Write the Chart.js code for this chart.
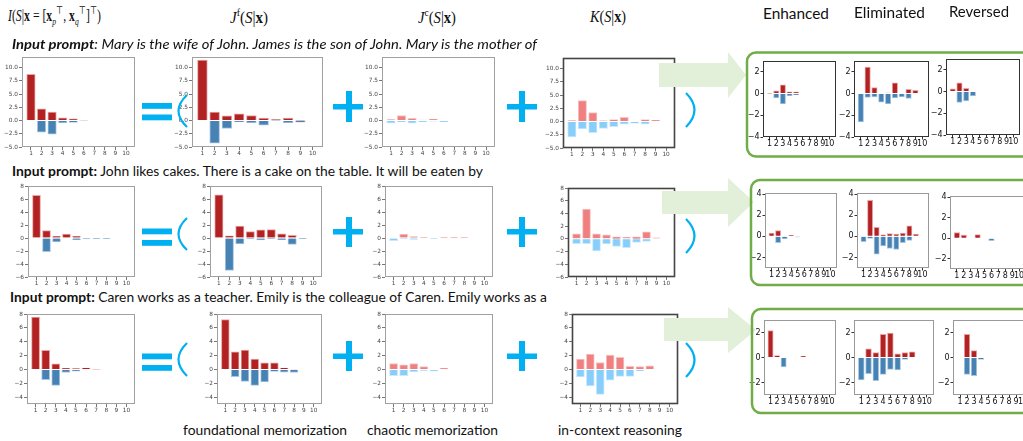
<!DOCTYPE html>
<html lang="en">
<head>
<meta charset="UTF-8">
<title>Decomposition of interactions</title>
<script src="https://cdnjs.cloudflare.com/ajax/libs/Chart.js/4.4.1/chart.umd.min.js"></script>
<style>
  body { margin: 0; width: 1023px; height: 441px; position: relative; overflow: hidden; background: #fff; font-family: Lato, "Open Sans", sans-serif; color: #111; }
  .txt { position: absolute; white-space: nowrap; transform-origin: 0 50%; line-height: 1.1; }
  .math { font-family: "Liberation Serif", "DejaVu Serif", serif; font-size: 17px; }
  .math sub, .math sup { font-size: 65%; }
  .panel { position: absolute; }
  #deco { position: absolute; left: 0; top: 0; z-index: 5; }
</style>
</head>
<body>
<svg id="deco" width="1023" height="441"></svg>
<script>
// orders 1..10 on the x axis
const orders = [1, 2, 3, 4, 5, 6, 7, 8, 9, 10];

// y tick labels
const mainTicksR1 = [-5, -2.5, 0, 2.5, 5, 7.5, 10];
const mainTicksR2 = [-6, -4, -2, 0, 2, 4, 6, 8];
const mainTicksR3 = [-4, -2, 0, 2, 4, 6, 8];
const sideTicksR1 = [-4, -2, 0, 2];
const sideTicksR2 = [-2, 0, 2, 4];
const sideTicksR3 = [-2, 0, 2];

// row 1: Mary is the wife of John ...
const r1TotalPos = [8.75, 2.2, 1.6, 0.5, 0.3, 0, 0, 0, 0, 0];
const r1TotalNeg = [0, -2.2, -2.6, -0.45, -0.35, -0.08, 0, 0, 0, 0];
const r1FoundPos = [11.4, 1.6, 0.9, 1.25, 0.95, 0.45, 0.2, 0.45, 0.05, 0];
const r1FoundNeg = [0, -4.3, -1.5, -0.2, -0.4, -0.9, -0.05, -0.45, -0.3, 0];
const r1ChaosPos = [0.2, 0.95, 0.4, 0.1, 0.25, 0, 0, 0, 0, 0];
const r1ChaosNeg = [-0.5, -0.25, -0.5, -0.2, -0.1, -0.2, 0, 0, 0, 0];
const r1IclPos = [0.2, 3.95, 1.7, 0.15, 0.35, 0.8, 0, 0.35, 0.25, 0];
const r1IclNeg = [-2.9, -1.4, -2.1, -1.3, -0.95, -0.5, -0.3, -0.5, 0, 0];
const r1EnhPos = [0.04, 0.25, 0.8, 0.15, 0.15, 0, 0, 0, 0, 0];
const r1EnhNeg = [0, -0.4, -0.95, -0.2, -0.1, 0, 0, 0, 0, 0];
const r1ElimPos = [0, 2.45, 0.55, 0, 0.05, 1.0, 0, 0.4, 0.3, 0];
const r1ElimNeg = [-2.6, -0.35, -0.3, -0.8, -0.95, -0.4, -0.3, -0.45, 0, 0];
const r1RevPos = [0.25, 0.8, 0.3, 0, 0, 0, 0, 0, 0, 0];
const r1RevNeg = [0, -1.0, -0.85, -0.4, 0, 0, 0, 0, 0, 0];

// row 2: John likes cakes ...
const r2TotalPos = [6.55, 1.15, 0.25, 0.6, 0.25, 0, 0, 0, 0, 0];
const r2TotalNeg = [0, -2.1, -0.6, 0, -0.25, -0.15, -0.05, -0.1, 0, 0];
const r2FoundPos = [6.65, 0.35, 1.85, 1.0, 1.25, 1.3, 0.65, 0.4, 0, 0];
const r2FoundNeg = [0, -5.0, -0.9, -0.15, -0.3, -0.1, -0.25, -1.0, -0.1, 0];
const r2ChaosPos = [0, 0.6, 0.2, 0.1, 0, 0.05, 0.03, 0.05, 0, 0];
const r2ChaosNeg = [-0.4, -0.15, -0.2, 0, -0.05, 0, 0, 0, 0, 0];
const r2IclPos = [0.8, 4.7, 0.8, 0.65, 0.3, 0.25, 0.3, 1.1, 0.15, 0];
const r2IclNeg = [-0.75, -0.75, -1.9, -0.8, -1.2, -1.4, -0.55, -0.4, 0, 0];
const r2EnhPos = [0.3, 0.55, 0, 0.1, 0, 0, 0, 0, 0, 0];
const r2EnhNeg = [0, -0.6, -0.25, 0, -0.05, 0, 0, 0, 0, 0];
const r2ElimPos = [0, 3.4, 0.85, 0.15, 0.25, 0.2, 0.3, 1.0, 0.2, 0];
const r2ElimNeg = [-0.5, -0.2, -1.7, -0.9, -1.15, -1.25, -0.6, -0.4, 0, 0];
const r2RevPos = [0.55, 0.3, 0, 0.35, 0, 0, 0, 0, 0, 0];
const r2RevNeg = [0, 0, 0, 0, 0, -0.25, 0, 0, 0, 0];

// row 3: Caren works as a teacher ...
const r3TotalPos = [7.55, 2.75, 0.8, 0.15, 0.1, 0.2, 0.03, 0, 0, 0];
const r3TotalNeg = [0, -1.5, -2.3, -0.45, -0.25, 0, 0, 0, 0, 0];
const r3FoundPos = [7.2, 2.55, 2.8, 1.5, 0.95, 0.95, 0.2, 0.05, 0, 0];
const r3FoundNeg = [0, -1.05, -1.75, -2.3, -1.8, -0.3, -0.4, -0.45, 0, 0];
const r3ChaosPos = [0.85, 0.65, 0.85, 0.4, 0, 0.15, 0, 0, 0, 0];
const r3ChaosNeg = [-0.9, -0.9, -0.35, -0.15, -0.25, 0, 0, 0, 0, 0];
const r3IclPos = [1.5, 2.2, 1.0, 2.05, 1.75, 0.45, 0.4, 0.5, 0, 0];
const r3IclNeg = [-1.1, -2.4, -3.6, -1.55, -1.0, -1.0, -0.2, 0, 0, 0];
const r3EnhPos = [2.15, 0.15, 0, 0, 0, 0.1, 0, 0, 0, 0];
const r3EnhNeg = [0, 0, -0.75, 0, 0, 0, 0, 0, 0, 0];
const r3ElimPos = [0, 0.7, 0.4, 1.85, 1.95, 0.3, 0.4, 0.45, 0, 0];
const r3ElimNeg = [-1.8, -1.3, -1.85, -1.35, -0.95, -1.0, -0.15, 0, 0, 0];
const r3RevPos = [0, 1.85, 0.55, 0, 0, 0, 0, 0, 0, 0];
const r3RevNeg = [0, -1.35, -1.45, -0.15, 0, 0, 0, 0, 0, 0];

const STRONG = { red: '#b22222', redEdge: '#e9a3a3', blue: '#4682b4', blueEdge: '#a8c6e0' };
const LIGHT = { red: '#f08080', redEdge: '#f8c4c4', blue: '#87cefa', blueEdge: '#c8e8fc' };

// draws the full box round the plot area
const framePlugin = {
  id: 'frame',
  afterDraw(chart, args, opts) {
    const a = chart.chartArea, c = chart.ctx;
    c.save();
    c.strokeStyle = opts.color;
    c.lineWidth = opts.width;
    c.strokeRect(a.left + 0.5, a.top + 0.5, a.right - a.left - 1, a.bottom - a.top - 1);
    c.restore();
  }
};

const minus = v => String(v).replace('-', '\u2212');

function panel(box, pos, neg, cfg) {
  const [l, t, r, b] = box;
  const padT = 6, padR = 4;
  const W = cfg.yW + (r - l) + padR, H = padT + (b - t) + cfg.xH;
  const div = document.createElement('div');
  div.className = 'panel';
  div.style.left = (l - cfg.yW) + 'px';
  div.style.top = (t - padT) + 'px';
  const cv = document.createElement('canvas');
  cv.width = W; cv.height = H;
  div.appendChild(cv);
  document.body.appendChild(div);

  const thick = (r - l) / (cfg.xMax - cfg.xMin) * 0.8;
  const pts = arr => arr.map((v, i) => ({ x: orders[i], y: v })).filter(p => p.y !== 0);
  const col = cfg.colors;
  const font = { family: 'DejaVu Sans', size: cfg.fs };

  new Chart(cv, {
    type: 'bar',
    data: {
      datasets: [
        { data: pts(pos), backgroundColor: col.red, borderColor: col.redEdge, borderWidth: 1, barThickness: thick, grouped: false },
        { data: pts(neg), backgroundColor: col.blue, borderColor: col.blueEdge, borderWidth: 1, barThickness: thick, grouped: false }
      ]
    },
    options: {
      responsive: false, animation: false, devicePixelRatio: 1,
      layout: { padding: { top: padT, right: padR, left: 0, bottom: 0 } },
      plugins: { legend: { display: false }, tooltip: { enabled: false }, frame: { color: cfg.frame, width: cfg.frameW } },
      scales: {
        x: {
          type: 'linear', min: cfg.xMin, max: cfg.xMax, offset: false,
          afterFit: s => { s.height = cfg.xH; },
          afterBuildTicks: s => { s.ticks = orders.map(v => ({ value: v })); },
          ticks: { autoSkip: false, maxRotation: 0, font, color: cfg.tc, padding: 0, callback: v => String(v) },
          grid: { drawOnChartArea: false, offset: false, tickLength: cfg.tl, color: cfg.tickCol },
          border: { display: false }
        },
        y: {
          min: cfg.yMin, max: cfg.yMax,
          afterFit: s => { s.width = cfg.yW; },
          afterBuildTicks: s => { s.ticks = cfg.yTicks.map(v => ({ value: v })); },
          ticks: { font, color: cfg.tc, padding: 1, callback: v => minus(cfg.dec ? v.toFixed(1) : v) },
          grid: { drawOnChartArea: false, tickLength: cfg.tl, color: cfg.tickCol },
          border: { display: false }
        }
      }
    },
    plugins: [framePlugin]
  });
}

const mainBase = { yW: 22, xH: 12, fs: 5.8, tc: '#444', tl: 3, tickCol: '#777', xMin: 0.15, xMax: 10.85, frame: '#a0a0a0', frameW: 1 };
const sideBase = { yW: 20, xH: 14, fs: 8, tc: '#111', tl: 2.5, tickCol: '#333', xMin: 0, xMax: 11, colors: STRONG, frame: '#999', frameW: 1 };
const dark = { frame: '#444', frameW: 1.6 };

const R1 = { yMin: -5, yMax: 12, yTicks: mainTicksR1, dec: true };
const R2 = { yMin: -6, yMax: 8, yTicks: mainTicksR2 };
const R3 = { yMin: -5, yMax: 8, yTicks: mainTicksR3 };
const S1 = { yMin: -4, yMax: 3, yTicks: sideTicksR1, frame: '#333' };
const S2 = { yMin: -3, yMax: 4.1, yTicks: sideTicksR2 };
const S3 = { yMin: -3, yMax: 3, yTicks: sideTicksR3 };

const m = (...o) => Object.assign({}, ...o);

// row 1
panel([22, 57, 135, 147], r1TotalPos, r1TotalNeg, m(mainBase, R1, { colors: STRONG }));
panel([192, 57, 323, 147], r1FoundPos, r1FoundNeg, m(mainBase, R1, { colors: STRONG }));
panel([382, 57, 495, 147], r1ChaosPos, r1ChaosNeg, m(mainBase, R1, { colors: LIGHT }));
panel([563, 58, 675, 148], r1IclPos, r1IclNeg, m(mainBase, R1, { colors: LIGHT }, dark));
panel([763, 61, 836, 137], r1EnhPos, r1EnhNeg, m(sideBase, S1));
panel([854, 61, 929, 137], r1ElimPos, r1ElimNeg, m(sideBase, S1));
panel([946, 59, 1020, 135], r1RevPos, r1RevNeg, m(sideBase, S1));

// row 2
panel([28, 186, 135, 277], r2TotalPos, r2TotalNeg, m(mainBase, R2, { colors: STRONG }));
panel([210, 186, 322, 277], r2FoundPos, r2FoundNeg, m(mainBase, R2, { colors: STRONG }));
panel([385, 186, 493, 277], r2ChaosPos, r2ChaosNeg, m(mainBase, R2, { colors: LIGHT }));
panel([568, 188, 675, 277], r2IclPos, r2IclNeg, m(mainBase, R2, { colors: LIGHT }, dark));
panel([765, 193, 837, 268], r2EnhPos, r2EnhNeg, m(sideBase, S2));
panel([857, 193, 929, 268], r2ElimPos, r2ElimNeg, m(sideBase, S2));
panel([950, 196, 1026, 269], r2RevPos, r2RevNeg, m(sideBase, S2));

// row 3
panel([27, 314, 135, 404], r3TotalPos, r3TotalNeg, m(mainBase, R3, { colors: STRONG }));
panel([217, 314, 322, 404], r3FoundPos, r3FoundNeg, m(mainBase, R3, { colors: STRONG }));
panel([385, 314, 493, 404], r3ChaosPos, r3ChaosNeg, m(mainBase, R3, { colors: LIGHT }));
panel([572, 314, 678, 404], r3IclPos, r3IclNeg, m(mainBase, R3, { colors: LIGHT }, dark));
panel([764, 320, 836, 395], r3EnhPos, r3EnhNeg, m(sideBase, S3));
panel([854, 320, 934, 395], r3ElimPos, r3ElimNeg, m(sideBase, S3));
panel([953, 320, 1030, 395], r3RevPos, r3RevNeg, m(sideBase, S3));

// decorations: equals, plus, brackets, arrows, green frames
const CYAN = '#00b0f0', PALE = '#e2efd9', GREEN = '#70ad47';
const svg = document.getElementById('deco');
let s = '';
const rect = (x, y, w, h, f) => { s += `<rect x="${x}" y="${y}" width="${w}" height="${h}" fill="${f}"/>`; };
[
  { eq: [103, 114.5], op: [95, 127], plus: [91, 122, 104], cl: [93, 127] },
  { eq: [228.5, 240], op: [218, 250], plus: [217, 247, 229], cl: [219, 253] },
  { eq: [353.5, 365], op: [343, 376], plus: [341, 371, 353.5] , cl: [343, 377] }
].forEach(g => {
  rect(142, g.eq[0], 30, 5.8, CYAN);
  rect(142, g.eq[1], 30, 5.8, CYAN);
  const my = (g.op[0] + g.op[1]) / 2;
  s += `<path d="M187,${g.op[0]} Q170,${my} 187,${g.op[1]}" stroke="${CYAN}" stroke-width="2.2" fill="none"/>`;
  [[333, 346], [507, 519]].forEach(([hx, vx]) => {
    rect(hx, g.plus[2], 30, 5.5, CYAN);
    rect(vx, g.plus[0], 6, g.plus[1] - g.plus[0], CYAN);
  });
  const cy = (g.cl[0] + g.cl[1]) / 2;
  s += `<path d="M686,${g.cl[0]} Q703,${cy} 686,${g.cl[1]}" stroke="${CYAN}" stroke-width="2.2" fill="none"/>`;
});
[
  { r: [659, 63, 87], h: [52, 746, 75, 98], box: [747, 52.5, 104] },
  { r: [662, 191, 214], h: [178, 754, 202, 227], box: [751, 180, 105] },
  { r: [664, 318, 341], h: [307, 756, 330, 353], box: [752, 309, 104] }
].forEach(a => {
  rect(a.r[0], a.r[1], 728 - a.r[0], a.r[2] - a.r[1], PALE);
  s += `<polygon points="728,${a.h[0]} ${a.h[1]},${a.h[2]} 728,${a.h[3]}" fill="${PALE}"/>`;
  s += `<rect x="${a.box[0]}" y="${a.box[1]}" width="300" height="${a.box[2]}" rx="9" fill="none" stroke="${GREEN}" stroke-width="2.5"/>`;
});
svg.innerHTML = s;

// texts, stretched to the widths measured on the figure
function addText(html, x, yc, w, cls, size) {
  const d = document.createElement('div');
  d.className = 'txt ' + (cls || '');
  if (size) d.style.fontSize = size + 'px';
  d.innerHTML = html;
  document.body.appendChild(d);
  const r = d.getBoundingClientRect();
  d.style.left = x + 'px';
  d.style.top = (yc - r.height / 2) + 'px';
  d.style.transform = `scaleX(${w / r.width})`;
}
const T = '\u22a4';
addText(`<i>I</i>(<i>S</i>|<b>x</b> = [<b>x</b><sub><i>p</i></sub><sup>${T}</sup>, <b>x</b><sub><i>q</i></sub><sup>${T}</sup>]<sup>${T}</sup>)`, 8, 16, 93, 'math');
addText(`<i>J</i><sup>f</sup>(<i>S</i>|<b>x</b>)`, 230, 17, 38, 'math');
addText(`<i>J</i><sup>c</sup>(<i>S</i>|<b>x</b>)`, 418, 17, 38, 'math');
addText(`<i>K</i>(<i>S</i>|<b>x</b>)`, 590, 17, 36, 'math');
addText('Enhanced', 763, 14, 66, '', 14.5);
addText('Eliminated', 854, 13, 71, '', 14.5);
addText('Reversed', 949, 12, 60, '', 14.5);
addText('<b><i>Input prompt</i></b><i>: Mary is the wife of John. James is the son of John. Mary is the mother of</i>', 12, 45, 525, '', 12.5);
addText('<b>Input prompt:</b> John likes cakes. There is a cake on the table. It will be eaten by', 12, 172, 471, '', 12.5);
addText('<b>Input prompt:</b> Caren works as a teacher. Emily is the colleague of Caren. Emily works as a', 10, 298, 537, '', 12.5);
addText('foundational memorization', 183, 430, 164, '', 13);
addText('chaotic memorization', 367, 430, 131, '', 13);
addText('in-context reasoning', 558, 430, 124, '', 13);
</script>
</body>
</html>
